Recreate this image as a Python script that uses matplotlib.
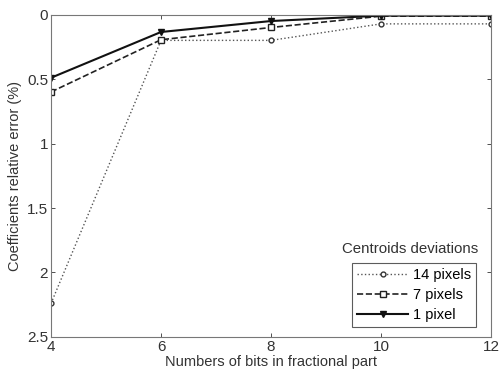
import matplotlib
matplotlib.use('Agg')
import matplotlib.pyplot as plt

plt.rcParams['font.family'] = ['Liberation Sans', 'DejaVu Sans']

bits = [4, 6, 8, 10, 12]
err_14px = [2.24, 0.20, 0.20, 0.072, 0.072]
err_7px = [0.60, 0.195, 0.10, 0.012, 0.012]
err_1px = [0.49, 0.135, 0.05, 0.008, 0.008]
series_labels = ['14 pixels', '7 pixels', '1 pixel']
xticks = [4, 6, 8, 10, 12]
yticks = [0, 0.5, 1, 1.5, 2, 2.5]
ytick_labels = ['0', '0.5', '1', '1.5', '2', '2.5']

fig = plt.figure(figsize=(5.0, 3.74), dpi=100)
ax = fig.add_axes([0.102, 0.099, 0.88, 0.862])

line_col = '#222222'
ax.plot(bits, err_14px, linestyle=':', color='#555555', linewidth=1.0,
        marker='o', markersize=3.5, markerfacecolor='white', markeredgecolor='#333333',
        label=series_labels[0])
ax.plot(bits, err_7px, linestyle='--', color=line_col, linewidth=1.2,
        marker='s', markersize=4, markerfacecolor='white', markeredgecolor=line_col,
        label=series_labels[1])
ax.plot(bits, err_1px, linestyle='-', color='#111111', linewidth=1.5,
        marker='v', markersize=4.5, markerfacecolor='#111111', markeredgecolor='#111111',
        label=series_labels[2])

ax.set_xlim(4, 12)
ax.set_ylim(2.5, 0)
ax.set_xticks(xticks)
ax.set_yticks(yticks)
ax.set_yticklabels(ytick_labels)
ax.tick_params(direction='in', top=True, right=True, length=3, width=0.6,
               labelsize=11, colors='#333333', pad=2)
for s in ax.spines.values():
    s.set_color('#777777')
    s.set_linewidth(0.8)

ax.set_xlabel('Numbers of bits in fractional part', fontsize=10.5, color='#333333', labelpad=1)
ax.set_ylabel('Coefficients relative error (%)', fontsize=10.5, color='#333333', labelpad=4)

leg = ax.legend(loc='lower right', bbox_to_anchor=(0.966, 0.031), fontsize=10.5,
                frameon=True, fancybox=False, handlelength=3.5, handletextpad=0.3,
                borderpad=0.35, labelspacing=0.4, borderaxespad=0)
leg.get_frame().set_edgecolor('#333333')
leg.get_frame().set_linewidth(0.8)
ax.text(0.972, 0.25, 'Centroids deviations', transform=ax.transAxes,
        ha='right', va='bottom', fontsize=10.8, color='#333333')

fig.savefig('out.png', dpi=100)
